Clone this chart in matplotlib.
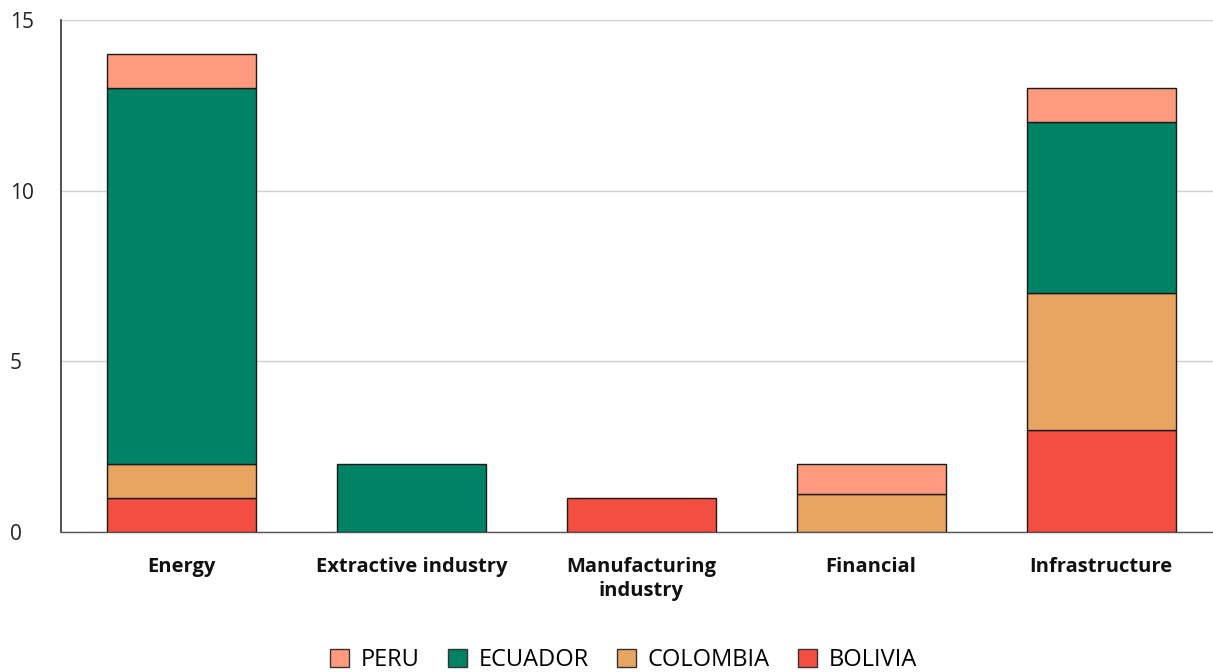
import matplotlib
matplotlib.use("Agg")
import matplotlib.pyplot as plt
from matplotlib.patches import Patch

plt.rcParams['font.family'] = ['Open Sans', 'DejaVu Sans']

categories = ["Energy", "Extractive industry", "Manufacturing\nindustry", "Financial", "Infrastructure"]
bolivia = [1, 0, 1, 0, 3]
colombia = [1, 0, 0, 1.12, 4]
ecuador = [11, 2, 0, 0, 5]
peru = [1, 0, 0, 0.88, 1]

series = [
    ("BOLIVIA", bolivia, "#F44E40"),
    ("COLOMBIA", colombia, "#E8A562"),
    ("ECUADOR", ecuador, "#008264"),
    ("PERU", peru, "#FF9A7E"),
]

fig = plt.figure(figsize=(12.13, 6.72), dpi=100)
ax = fig.add_axes([61 / 1213, 1 - 532 / 672, 1152 / 1213, 512 / 672])

x = list(range(len(categories)))
bottom = [0.0] * len(categories)
for name, vals, color in series:
    xs = [xi for xi, v in zip(x, vals) if v > 0]
    hs = [v for v in vals if v > 0]
    bs = [b for b, v in zip(bottom, vals) if v > 0]
    ax.bar(xs, hs, bottom=bs, width=0.648, color=color, edgecolor="#1a1a1a",
           linewidth=1.0, zorder=3)
    bottom = [b + v for b, v in zip(bottom, vals)]

ax.set_xlim(-0.524, 4.487)
ax.set_ylim(0, 15)
ax.set_yticks([0, 5, 10, 15])
ax.yaxis.grid(True, color="#d0d0d0", linewidth=1.0, zorder=0)
ax.set_axisbelow(True)

for side in ("top", "right"):
    ax.spines[side].set_visible(False)
ax.spines["left"].set_color("#333333")
ax.spines["left"].set_linewidth(1.2)
ax.spines["bottom"].set_color("#555555")
ax.spines["bottom"].set_linewidth(1.0)

ax.tick_params(axis="y", length=0, pad=37, labelsize=15, labelcolor="#222222")
ax.tick_params(axis="x", length=0, pad=18)
ax.set_xticks(x)
ax.set_xticklabels(categories, fontsize=14.5, fontweight="bold", color="#111111",
                   linespacing=1.25)
for lbl in ax.get_yticklabels():
    lbl.set_horizontalalignment("left")

handles = [Patch(facecolor=c, edgecolor="#333333", label=n) for n, _, c in reversed(series)]
fig.legend(handles=handles, loc="center", bbox_to_anchor=(0.514, 1 - 660 / 672), ncol=4,
           frameon=False, fontsize=17, handlelength=0.8, handleheight=0.8,
           columnspacing=1.2, handletextpad=0.5)

fig.savefig("out.png", dpi=100)
